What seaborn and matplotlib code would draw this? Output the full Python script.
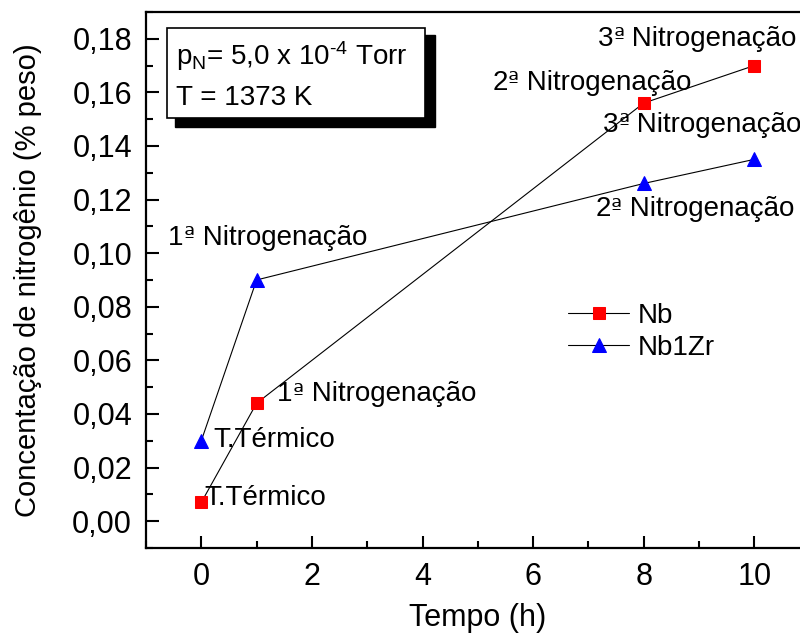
import seaborn as sns
import matplotlib.pyplot as plt
import pandas as pd
from matplotlib.patches import Rectangle
from matplotlib.ticker import MultipleLocator, FuncFormatter

# data
tempo = [0, 1, 8, 10]
nb = [0.007, 0.044, 0.156, 0.170]
nb1zr = [0.030, 0.090, 0.126, 0.135]

# annotations: (ordinal, rest, x, y)
notas = [
    ("3", "Nitrogenação", 7.17, 0.180),
    ("2", "Nitrogenação", 5.26, 0.1636),
    ("3", "Nitrogenação", 7.26, 0.148),
    ("2", "Nitrogenação", 7.13, 0.1163),
    ("1", "Nitrogenação", -0.6, 0.1058),
    ("1", "Nitrogenação", 1.37, 0.0473),
    ("", "T.Térmico", 0.22, 0.0302),
    ("", "T.Térmico", 0.05, 0.0086),
]

df_nb = pd.DataFrame({'tempo': tempo, 'conc': nb})
df_zr = pd.DataFrame({'tempo': tempo, 'conc': nb1zr})

sns.set_style('ticks')
plt.rcParams['font.family'] = ['Liberation Sans', 'DejaVu Sans']
plt.rcParams['mathtext.fontset'] = 'custom'
plt.rcParams['mathtext.rm'] = 'Liberation Sans'
plt.rcParams['mathtext.it'] = 'Liberation Sans'
for k in ['text.color', 'axes.labelcolor', 'xtick.color', 'ytick.color', 'axes.edgecolor']:
    plt.rcParams[k] = 'black'

fig = plt.figure(figsize=(8, 6.36), dpi=100)
ax = fig.add_axes([0.1825, 0.1384, 0.8295, 0.8428])

sns.lineplot(data=df_nb, x='tempo', y='conc', ax=ax, color='black', lw=0.8,
             marker='s', markersize=8.5, markerfacecolor='red',
             markeredgecolor='red', label='Nb')
sns.lineplot(data=df_zr, x='tempo', y='conc', ax=ax, color='black', lw=0.8,
             marker='^', markersize=10, markerfacecolor='blue',
             markeredgecolor='blue', label='Nb1Zr')

ax.set_xlim(-1, 11)
ax.set_ylim(-0.01, 0.19)
ax.xaxis.set_major_locator(MultipleLocator(2))
ax.xaxis.set_minor_locator(MultipleLocator(1))
ax.yaxis.set_major_locator(MultipleLocator(0.02))
ax.yaxis.set_minor_locator(MultipleLocator(0.01))
ax.yaxis.set_major_formatter(FuncFormatter(lambda v, p: f"{v:.2f}".replace('.', ',')))
ax.tick_params(which='both', direction='in', labelsize=22, width=1.5,
               top=False, right=False)
ax.tick_params(which='major', length=9, pad=10)
ax.tick_params(which='minor', length=5)
for s in ax.spines.values():
    s.set_linewidth(1.6)

ax.set_xlabel('Tempo (h)', fontsize=22, labelpad=8)
ax.set_ylabel('Concentação de nitrogênio (% peso)', fontsize=21, labelpad=22)

# labels; the ordinal sign comes from DejaVu Sans, where it is underlined
for n, resto, x, y in notas:
    if not n:
        ax.text(x, y, resto, fontsize=20, ha='left', va='center')
        continue
    t1 = ax.text(x, y, n, fontsize=20, ha='left', va='center')
    t2 = ax.annotate('ª', xy=(1, 0.1), xycoords=t1, fontsize=17, ha='left',
                     va='bottom', family='DejaVu Sans')
    ax.annotate(' ' + resto, xy=(1, 0), xycoords=(t2, t1), fontsize=20,
                ha='left', va='bottom')

# boxed conditions with a drop shadow
ax.add_patch(Rectangle((175 / 800, (636 - 127) / 636), 260 / 800, 92 / 636,
                       transform=fig.transFigure, facecolor='black',
                       edgecolor='black', zorder=5))
ax.add_patch(Rectangle((167 / 800, (636 - 118) / 636), 258 / 800, 90 / 636,
                       transform=fig.transFigure, facecolor='white',
                       edgecolor='black', lw=1.2, zorder=6))
fig.text(176 / 800, (636 - 56) / 636,
         r'p$_\mathregular{N}$= 5,0 x 10$^\mathregular{‐4}$ Torr',
         fontsize=20, va='center', ha='left', zorder=7)
fig.text(176 / 800, (636 - 98) / 636, 'T = 1373 K',
         fontsize=20, va='center', ha='left', zorder=7)

ax.legend(loc='center left', bbox_to_anchor=(0.636, 0.403), frameon=False,
          fontsize=20, handlelength=2.2, handletextpad=0.3, borderpad=0,
          borderaxespad=0, labelspacing=0.2, numpoints=1)

fig.savefig('out.png', dpi=100)
